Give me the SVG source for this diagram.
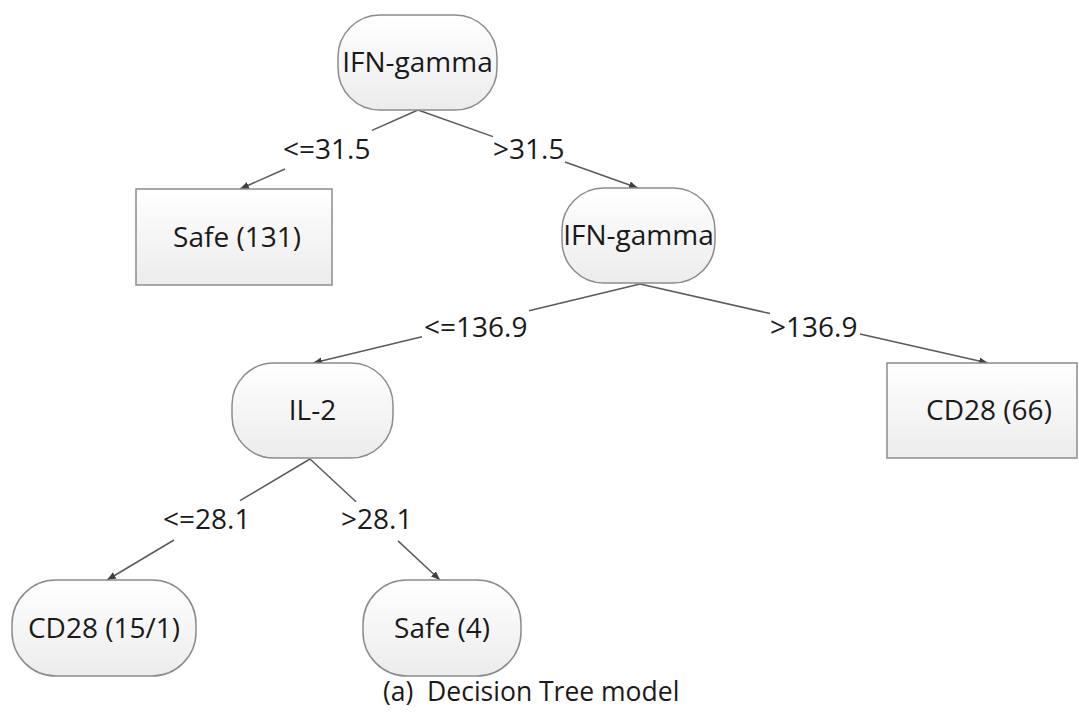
<svg xmlns="http://www.w3.org/2000/svg" width="1079" height="717" viewBox="0 0 1079 717">
<defs>
<linearGradient id="g" x1="0" y1="0" x2="0" y2="1">
<stop offset="0" stop-color="#ffffff"/>
<stop offset="1" stop-color="#ececec"/>
</linearGradient>
<marker id="arr" viewBox="0 0 10 10" refX="10" refY="5" markerWidth="9" markerHeight="9" markerUnits="userSpaceOnUse" orient="auto">
<path d="M0,1 L10,5 L0,9 z" fill="#404040"/>
</marker>
<style>
.n{fill:url(#g);stroke:#8c8c8c;stroke-width:1.5}
.t{font-family:"Open Sans","Liberation Sans",sans-serif;font-size:28px;fill:#1a1a1a;text-anchor:middle}
.l{font-family:"Open Sans","Liberation Sans",sans-serif;font-size:28px;fill:#1a1a1a}
.c{stroke:#5a5a5a;stroke-width:1.5;fill:none}
.a{stroke:#5a5a5a;stroke-width:1.5;fill:none;marker-end:url(#arr)}
</style>
</defs>
<rect width="1079" height="717" fill="#ffffff"/>
<g id="connectors">
<line class="c" x1="418" y1="110" x2="372" y2="130.4"/>
<line class="a" x1="285" y1="169" x2="240" y2="189"/>
<line class="c" x1="418" y1="110" x2="493" y2="136.6"/>
<line class="a" x1="565" y1="162" x2="638" y2="188"/>
<line class="c" x1="640" y1="284" x2="529" y2="310.8"/>
<line class="a" x1="422" y1="336.7" x2="313" y2="363"/>
<line class="c" x1="640" y1="284" x2="770" y2="313.5"/>
<line class="a" x1="860" y1="334" x2="988" y2="363"/>
<line class="c" x1="310" y1="459" x2="240" y2="500.7"/>
<line class="a" x1="174" y1="540" x2="107" y2="580"/>
<line class="c" x1="310" y1="459" x2="356" y2="501.8"/>
<line class="a" x1="398" y1="540.9" x2="440" y2="580"/>
<text class="l" x="283" y="159">&lt;=31.5</text>
<text class="l" x="493" y="159">&gt;31.5</text>
<text class="l" x="424" y="337">&lt;=136.9</text>
<text class="l" x="770" y="337">&gt;136.9</text>
<text class="l" x="163" y="529">&lt;=28.1</text>
<text class="l" x="341" y="529">&gt;28.1</text>
</g>
<g id="n1"><rect class="n" x="338" y="15" width="159" height="95" rx="42" ry="42"/><text class="t" x="417.5" y="72">IFN-gamma</text></g>
<g id="n2"><rect class="n" x="136" y="189" width="196" height="96"/><text class="t" x="237" y="247">Safe (131)</text></g>
<g id="n3"><rect class="n" x="562" y="188" width="153" height="95" rx="42" ry="42"/><text class="t" x="638.5" y="245">IFN-gamma</text></g>
<g id="n4"><rect class="n" x="887" y="363" width="190" height="95"/><text class="t" x="989" y="420">CD28 (66)</text></g>
<g id="n5"><rect class="n" x="232" y="363" width="161" height="95" rx="42" ry="42"/><text class="t" x="312.5" y="420">IL-2</text></g>
<g id="n6"><rect class="n" x="12" y="580" width="184" height="96" rx="44" ry="44"/><text class="t" x="104" y="638">CD28 (15/1)</text></g>
<g id="n7"><rect class="n" x="363" y="580" width="158" height="96" rx="44" ry="44"/><text class="t" x="442" y="638">Safe (4)</text></g>
<text id="caption" x="383" y="701" font-family="'Open Sans','Liberation Sans',sans-serif" font-size="26.5" fill="#1a1a1a" xml:space="preserve">(a)  Decision Tree model</text>
</svg>
